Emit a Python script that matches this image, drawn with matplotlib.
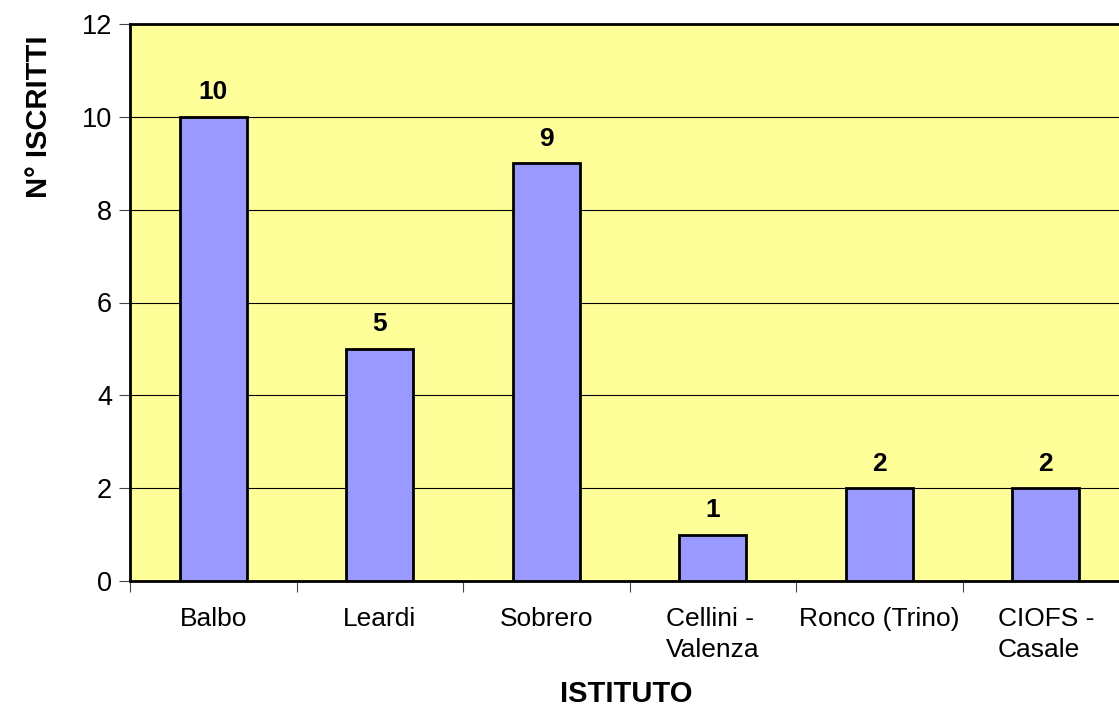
import matplotlib
matplotlib.use("Agg")
import matplotlib.pyplot as plt
import numpy as np

# ── data ────────────────────────────────────────────────────────────
istituti = ["Balbo", "Leardi", "Sobrero", "Cellini -\nValenza",
            "Ronco (Trino)", "CIOFS -\nCasale"]
iscritti = [10, 5, 9, 1, 2, 2]

# ── colours ─────────────────────────────────────────────────────────
PLOT_BG  = "#FFFF99"
BAR_FILL = "#9999FF"

plt.rcParams["font.family"] = ["Liberation Sans", "DejaVu Sans"]

fig = plt.figure(figsize=(11.19, 7.08), dpi=100)
ax = fig.add_axes([130 / 1119, 127 / 708, 999 / 1119, 557 / 708])
ax.set_facecolor(PLOT_BG)

x = np.arange(len(istituti))
ax.bar(x, iscritti, width=0.4, color=BAR_FILL, edgecolor="black",
       linewidth=2, zorder=3)

for xi, v in zip(x, iscritti):
    ax.text(xi, v + 0.27, str(v), ha="center", va="bottom",
            fontsize=19, fontweight="bold", zorder=4)

ax.set_xlim(-0.5, len(istituti) - 0.5)
ax.set_ylim(0, 12)
ax.set_yticks(np.arange(0, 13, 2))
ax.yaxis.grid(True, color="black", linewidth=0.8, zorder=1)

# category labels centred, tick marks between categories
ax.set_xticks(x)
ax.set_xticklabels(istituti, fontsize=19, linespacing=1.35,
                   multialignment="left")
ax.tick_params(axis="x", which="major", length=0, pad=19)
ax.set_xticks(np.arange(-0.5, len(istituti)), minor=True)
ax.tick_params(axis="x", which="minor", length=8, width=0.8,
               direction="out", color="#444444")
ax.tick_params(axis="y", labelsize=19.5, length=8, width=0.8,
               direction="out", pad=5, color="#444444")

for side in ["left", "bottom", "top"]:
    ax.spines[side].set_linewidth(2)
ax.spines["right"].set_visible(False)

ax.set_xlabel("ISTITUTO", fontsize=21, fontweight="bold")
ax.xaxis.set_label_coords(0.497, -0.178)
ax.set_ylabel("N° ISCRITTI", fontsize=21, fontweight="bold")
ax.yaxis.set_label_coords(-0.077, 0.833)

fig.savefig("out.png", dpi=100)
